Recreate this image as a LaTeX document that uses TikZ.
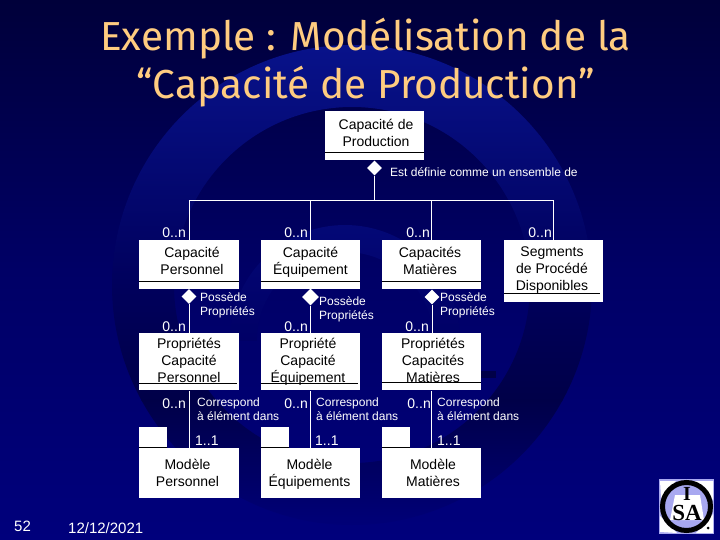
\documentclass[tikz,border=0pt]{standalone}
\usepackage{fontspec}
\setmainfont{Liberation Sans}
\newfontfamily\titlefont{Fira Sans}
\newfontfamily\logofont{Liberation Serif}
\usetikzlibrary{shapes.geometric}
\definecolor{titlecol}{HTML}{FFCC80}
\definecolor{bgtop}{HTML}{00003A}
\definecolor{bgmid}{HTML}{000066}
\definecolor{bgbot}{HTML}{00007C}
\definecolor{ringtop}{HTML}{08128A}
\definecolor{ringmid}{HTML}{00005C}
\definecolor{ringlow}{HTML}{000048}
\definecolor{ringend}{HTML}{000078}
\definecolor{logoblue}{HTML}{A8A8F0}
\tikzset{
  boxnode/.style={fill=white,inner sep=0pt,text=black},
  boxtext/.style={text=black,align=center,font=\fontsize{14}{17}\selectfont,inner sep=0pt,yshift=-2pt,
    execute at begin node=\strut,execute at end node=\strut},
  ann/.style={text=white,align=left,anchor=west,font=\fontsize{12}{14.5}\selectfont,inner sep=0pt,yshift=-1.5pt,
    execute at begin node=\strut,execute at end node=\strut},
  mult/.style={text=white,anchor=east,font=\fontsize{14}{15}\selectfont,inner sep=0pt},
  multb/.style={text=white,anchor=west,font=\fontsize{14}{15}\selectfont,inner sep=0pt},
  link/.style={draw=white,line width=1pt},
  rulebk/.style={draw=black,line width=1pt},
  dia/.style={diamond,fill=white,inner sep=0pt,minimum width=15pt,minimum height=15pt},
  titlenode/.style={text=titlecol,font=\titlefont\fontsize{40.5}{48}\selectfont,inner sep=0pt}
}
\newcommand{\mybox}[5]{\node[boxnode,minimum width={(#4-#2)*1pt},minimum height={(#5-#3)*1pt}] (#1) at ({(#2+#4)/2},{(#3+#5)/2}) {};}
\newcommand{\myrule}[3]{\draw[rulebk] ([yshift=#2pt]#1.south west) -- ([yshift=#2pt,xshift=-#3pt]#1.south east);}
\begin{document}
\begin{tikzpicture}[x=1pt,y=-1pt]
\useasboundingbox (0,0) rectangle (720,540);
% background
\shade[top color=bgtop,bottom color=bgmid] (0,0) rectangle (720,271);
\shade[top color=bgmid,bottom color=bgbot] (0,270) rectangle (720,540);
% watermark
\begin{scope}[even odd rule]
\clip (352,285) circle[radius=240] (352,285) circle[radius=178];
\shade[top color=ringtop,bottom color=ringmid] (0,45) rectangle (720,286);
\shade[top color=ringmid,bottom color=ringlow] (0,285) rectangle (720,401);
\shade[top color=ringlow,bottom color=ringend] (0,400) rectangle (720,526);
\end{scope}
\begin{scope}[even odd rule]
\clip (345,340) circle[radius=115] (345,340) circle[radius=88];
\shade[top color=ringtop!45!bgmid,bottom color=bgmid] (0,225) rectangle (720,340);
\end{scope}
\fill[ringlow] (481,371) rectangle (496,378);
% title
\node[titlenode] (t1) at (365.5,38.5) {Exemple : Modélisation de la};
\node[titlenode] (t2) at (365.5,87) {“Capacité de Production”};
% boxes
\mybox{c0}{325}{111}{424}{160}
\mybox{c1}{139}{240}{239}{289}
\mybox{c2}{261}{240}{360}{289}
\mybox{c3}{382}{240}{481}{289}
\mybox{c4}{504}{240}{603}{302}
\mybox{p1}{139}{333}{239}{390}
\mybox{p2}{261}{333}{360}{390}
\mybox{p3}{382}{333}{481}{390}
\mybox{m1}{139}{448}{239}{498}
\mybox{m2}{261}{448}{360}{498}
\mybox{m3}{382}{448}{481}{498}
\mybox{s1}{139}{427}{167}{447.5}
\mybox{s2}{261}{427}{289}{447.5}
\mybox{s3}{382}{427}{410}{447.5}
% box labels
\node[boxtext] (l0) at (376,133.5) {Capacité de\\Production};
\node[boxtext] (l1) at (192,261.5) {Capacité\\Personnel};
\node[boxtext] (l2) at (310.5,261.5) {Capacité\\Équipement};
\node[boxtext] (l3) at (430,261.5) {Capacités\\Matières};
\node[boxtext] (l4) at (552,269) {Segments\\de Procédé\\Disponibles};
\node[boxtext] (l5) at (189,360.5) {Propriétés\\Capacité\\Personnel};
\node[boxtext] (l6) at (308,360.5) {Propriété\\Capacité\\Équipement};
\node[boxtext] (l7) at (433,360.5) {Propriétés\\Capacités\\Matières};
\node[boxtext] (l8) at (187.5,473) {Modèle\\Personnel};
\node[boxtext] (l9) at (309.5,473) {Modèle\\Équipements};
\node[boxtext] (l10) at (433,473) {Modèle\\Matières};
\myrule{c0}{8}{0}
\myrule{c1}{8}{0}
\myrule{c2}{8}{0}
\myrule{c3}{8}{0}
\myrule{c4}{9}{3}
\myrule{p1}{7}{2}
\myrule{p2}{7}{2}
\myrule{p3}{8}{0}
\draw[rulebk] (s1.south west) -- (s1.south east);
\draw[rulebk] (s2.south west) -- (s2.south east);
\draw[rulebk] (s3.south west) -- (s3.south east);
% diamonds
\node[dia] (d0) at (374.5,168) {};
\node[dia] (d1) at (189,296.5) {};
\node[dia,minimum width=17pt,minimum height=17pt] (d2) at (310.5,297) {};
\node[dia] (d3) at (432,297) {};
% connectors
\coordinate (bus) at (374.5,200.5);
\draw[link] (d0.south) -- (bus);
\draw[link] (c1.north) |- (bus);
\draw[link] (c4.north) |- (bus);
\draw[link] (c2.north) -- (c2.north |- bus);
\draw[link] (c3.north) -- (c3.north |- bus);
\draw[link] (d1.south) -- (d1.south |- p1.north);
\draw[link] (d2.south) -- (d2.south |- p2.north);
\draw[link] (d3.south) -- (d3.south |- p3.north);
\coordinate (q1) at ([yshift=-1pt]p1.south);
\coordinate (q2) at ([yshift=-1pt]p2.south);
\coordinate (q3) at ([yshift=-1pt]p3.south);
\draw[link] (q1) -- (m1.north);
\draw[link] (q2) -- (m2.north);
\draw[link] (q3) -- (m3.north);
% annotations
\node[ann] (a0) at (390,172.5) {Est définie comme un ensemble de};
\node[ann] (a1) at (200,305) {Possède\\Propriétés};
\node[ann] (a2) at (319,309) {Possède\\Propriétés};
\node[ann] (a3) at (440,305) {Possède\\Propriétés};
\node[ann] (a4) at (197,410) {Correspond\\à élément dans};
\node[ann] (a5) at (316,410) {Correspond\\à élément dans};
\node[ann] (a6) at (437,410) {Correspond\\à élément dans};
% multiplicities
\node[mult] (n1) at (186,233) {0..n};
\node[mult] (n2) at (308,233) {0..n};
\node[mult] (n3) at (430,233) {0..n};
\node[mult] (n4) at (552,233) {0..n};
\node[mult] (n5) at (186,327) {0..n};
\node[mult] (n6) at (308,327) {0..n};
\node[mult] (n7) at (429,327) {0..n};
\node[mult] (n8) at (186,404) {0..n};
\node[mult] (n9) at (308,404) {0..n};
\node[mult] (n10) at (431,404) {0..n};
\node[multb] (o1) at (195,441) {1..1};
\node[multb] (o2) at (315,441) {1..1};
\node[multb] (o3) at (437,441) {1..1};
% footer
\node[text=white,anchor=west,inner sep=0pt,font=\fontsize{15}{15}\selectfont] (pg) at (14,526.5) {52};
\node[text=white,anchor=west,inner sep=0pt,font=\fontsize{15}{15}\selectfont] (dt) at (68,528) {12/12/2021};
% logo
\fill[logoblue] (659,479) rectangle (714,534);
\fill[white] (660,481) -- (676,481) -- (661,498) -- cycle;
\fill[white] (694,481) -- (713,481) -- (713,500) -- cycle;
\fill[white] (660,532) -- (660,516) -- (677,533) -- cycle;
\fill[white] (713,514) -- (713,533) -- (696,533) -- cycle;
\fill[white] (675,495) -- (700,495) -- (704,520) -- (670,520) -- cycle;
\draw[black,line width=5pt] (686.5,506.5) circle[radius=24];
\node[text=black,inner sep=0pt,font=\logofont\bfseries\fontsize{20}{20}\selectfont] (li) at (687,493.5) {I};
\node[text=black,inner sep=0pt,font=\logofont\bfseries\fontsize{23}{23}\selectfont] (ls) at (687,513) {SA};
\fill[black] (708,528) circle[radius=1.5];
\end{tikzpicture}
\end{document}
